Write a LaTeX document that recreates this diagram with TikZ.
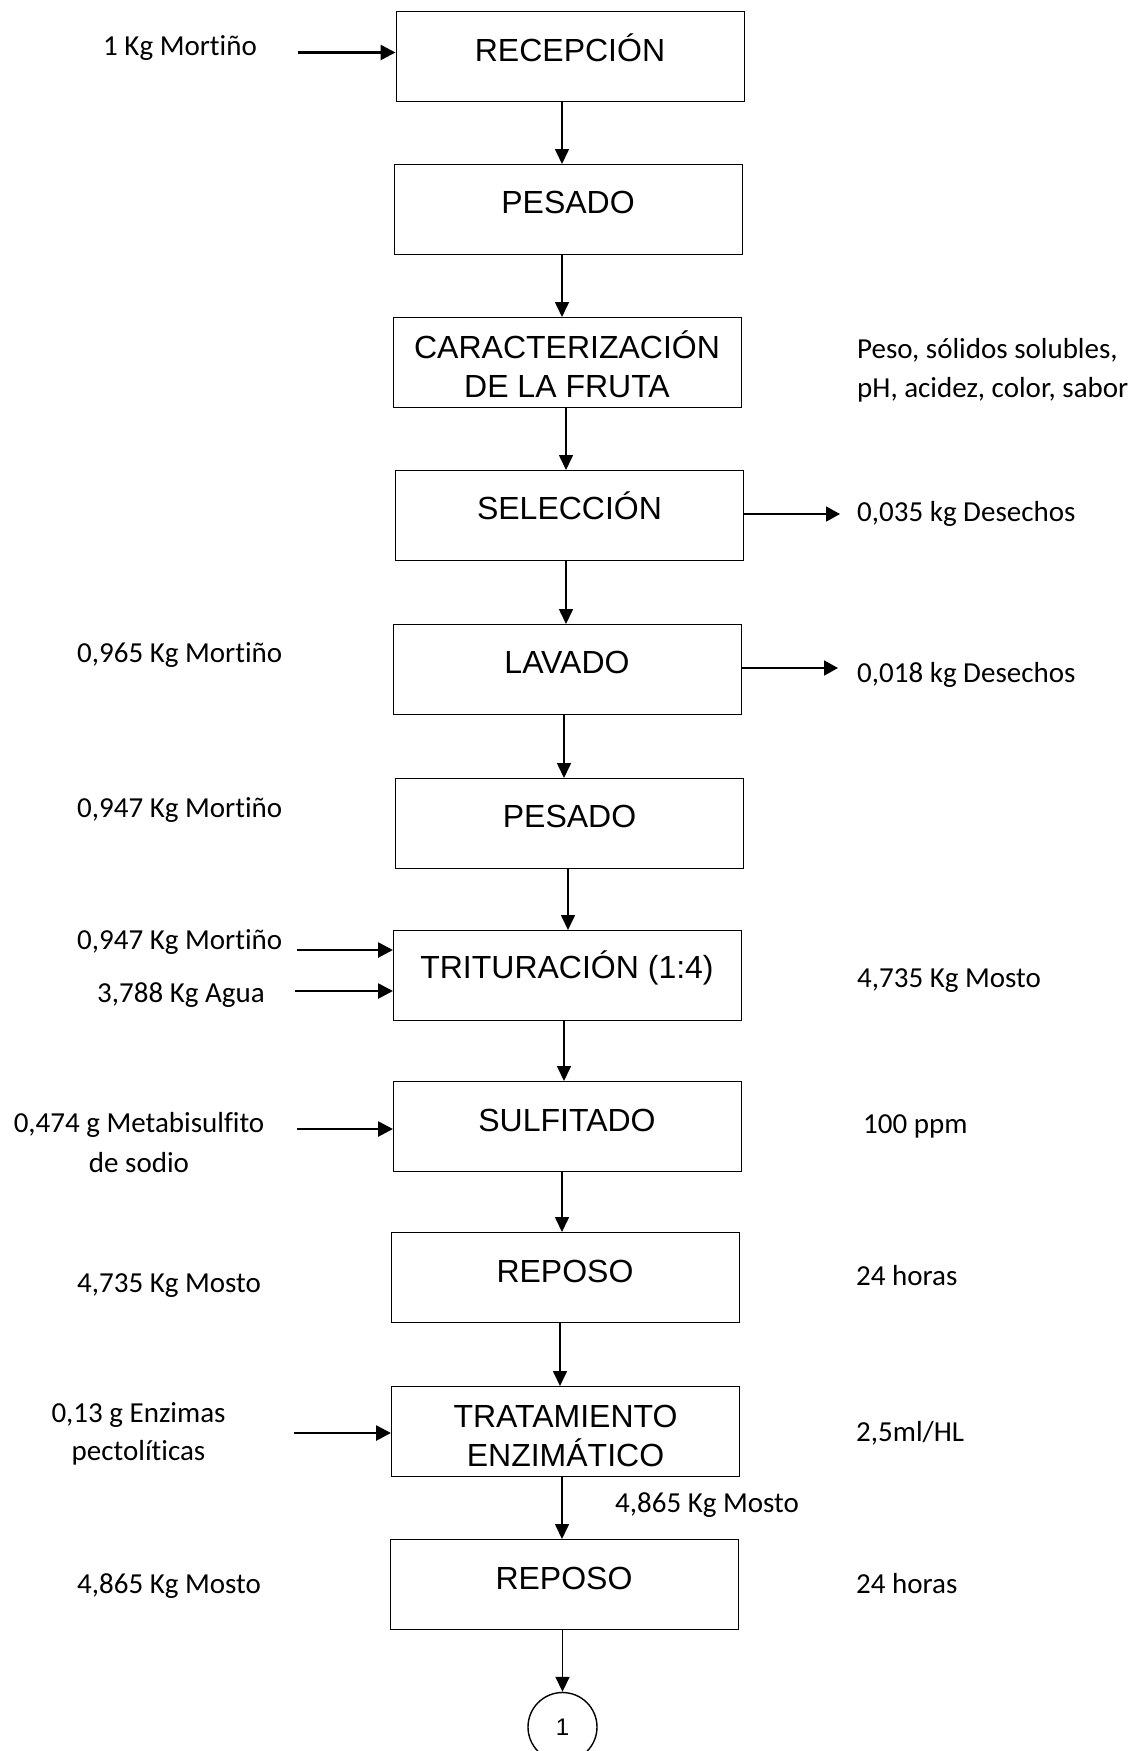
\documentclass[tikz,border=0pt]{standalone}
\usepackage{fontspec}
\setmainfont{Liberation Sans}
\newfontfamily\labfont[Ligatures=NoCommon]{Carlito}
\usetikzlibrary{arrows.meta}
\begin{document}
\begin{tikzpicture}[x=1pt,y=-1pt,
  box/.style={draw, line width=1.3pt, anchor=north west, inner sep=0pt, minimum width=348pt, minimum height=90pt},
  btxt/.style={anchor=base, inner sep=0pt, font=\fontsize{32}{38}\selectfont},
  lbl/.style={anchor=base west, inner sep=0pt, font=\labfont\fontsize{29}{35}\selectfont},
  lblc/.style={anchor=base, inner sep=0pt, font=\labfont\fontsize{29}{35}\selectfont},
  down/.style={-{Triangle[length=15pt,width=14pt]}, line width=1.6pt},
  inarr/.style={-{Triangle[length=15pt,width=15pt]}, line width=2.7pt},
  outarr/.style={-{Triangle[length=14pt,width=15pt]}, line width=1.8pt}]
\useasboundingbox (0,0) rectangle (1141,1751);

% boxes
\node[box] (recep) at (395.5,11) {};
\node[btxt] (trecep) at (570,61) {RECEPCIÓN};
\node[box] (pes1) at (393.5,164) {};
\node[btxt] (tpes1) at (568,213) {PESADO};
\node[box] (car) at (392.5,317) {};
\node[btxt] (tcar1) at (567,358) {CARACTERIZACIÓN};
\node[btxt] (tcar2) at (567,397) {DE LA FRUTA};
\node[box] (sel) at (395,470) {};
\node[btxt] (tsel) at (569.5,519) {SELECCIÓN};
\node[box] (lav) at (393,624) {};
\node[btxt] (tlav) at (567,673) {LAVADO};
\node[box] (pes2) at (395,778) {};
\node[btxt] (tpes2) at (569.5,827) {PESADO};
\node[box] (trit) at (393,930) {};
\node[btxt] (ttrit) at (567,978) {TRITURACIÓN (1:4)};
\node[box] (sulf) at (393,1081) {};
\node[btxt] (tsulf) at (567,1131) {SULFITADO};
\node[box] (rep1) at (391,1232) {};
\node[btxt] (trep1) at (565,1282) {REPOSO};
\node[box] (trat) at (391,1386) {};
\node[btxt] (ttrat1) at (565.5,1427) {TRATAMIENTO};
\node[btxt] (ttrat2) at (565.5,1466) {ENZIMÁTICO};
\node[box] (rep2) at (390,1539) {};
\node[btxt] (trep2) at (564,1589) {REPOSO};
\node[draw, circle, line width=1.4pt, minimum size=69pt, inner sep=0pt, font=\fontsize{24}{28}\selectfont] (c1) at (562.5,1727) {1};

% down arrows
\coordinate (a1) at (562,0);
\coordinate (a2) at (562,0);
\coordinate (a3) at (566,0);
\coordinate (a4) at (566,0);
\coordinate (a5) at (564,0);
\coordinate (a6) at (568,0);
\coordinate (a7) at (564,0);
\coordinate (a8) at (562,0);
\coordinate (a9) at (560,0);
\coordinate (a10) at (562,0);
\draw[down] (recep.south -| a1) -- (pes1.north -| a1);
\draw[down] (pes1.south -| a2) -- (car.north -| a2);
\draw[down] (car.south -| a3) -- (sel.north -| a3);
\draw[down] (sel.south -| a4) -- (lav.north -| a4);
\draw[down] (lav.south -| a5) -- (pes2.north -| a5);
\draw[down] (pes2.south -| a6) -- (trit.north -| a6);
\draw[down] (trit.south -| a7) -- (sulf.north -| a7);
\draw[down] (sulf.south -| a8) -- (rep1.north -| a8);
\draw[down] (rep1.south -| a9) -- (trat.north -| a9);
\draw[down] (trat.south -| a10) -- (rep2.north -| a10);
\draw[down] (rep2.south -| c1.north) -- (c1.north);

% side arrows
\coordinate (in1) at (298,52.5);
\draw[inarr] (in1) -- (in1 -| recep.west);
\coordinate (o1) at (840,514);
\draw[outarr] (o1 -| sel.east) -- (o1);
\coordinate (o2) at (838,668);
\draw[outarr] (o2 -| lav.east) -- (o2);
\coordinate (in2) at (297,950);
\draw[inarr] (in2) -- (in2 -| trit.west);
\coordinate (in3) at (295,991);
\draw[inarr] (in3) -- (in3 -| trit.west);
\coordinate (in4) at (297,1129);
\draw[inarr] (in4) -- (in4 -| sulf.west);
\coordinate (in5) at (294,1433);
\draw[inarr] (in5) -- (in5 -| trat.west);

% labels
\node[lbl] (l1) at (103,55) {1 Kg Mortiño};
\node[lbl] (l2a) at (857,358) {Peso, sólidos solubles,};
\node[lbl] (l2b) at (857,397) {pH, acidez, color, sabor};
\node[lbl] (l3) at (857,521) {0,035 kg Desechos};
\node[lbl] (l4) at (77,662) {0,965 Kg Mortiño};
\node[lbl] (l5) at (857,682) {0,018 kg Desechos};
\node[lbl] (l6) at (77,817) {0,947 Kg Mortiño};
\node[lbl] (l7) at (77,949) {0,947 Kg Mortiño};
\node[lbl] (l8) at (97,1002) {3,788 Kg Agua};
\node[lbl] (l9) at (857,987) {4,735 Kg Mosto};
\node[lblc] (l10a) at (139,1132) {0,474 g Metabisulfito};
\node[lblc] (l10b) at (139,1172) {de sodio};
\node[lbl] (l11) at (863,1133) {100 ppm};
\node[lbl] (l12) at (77,1292) {4,735 Kg Mosto};
\node[lbl] (l13) at (856,1285) {24 horas};
\node[lblc] (l14a) at (138.5,1422) {0,13 g Enzimas};
\node[lblc] (l14b) at (138.5,1460) {pectolíticas};
\node[lbl] (l15) at (856,1441) {2,5ml/HL};
\node[lbl] (l16) at (615,1512) {4,865 Kg Mosto};
\node[lbl] (l17) at (77,1593) {4,865 Kg Mosto};
\node[lbl] (l18) at (856,1593) {24 horas};
\end{tikzpicture}
\end{document}
